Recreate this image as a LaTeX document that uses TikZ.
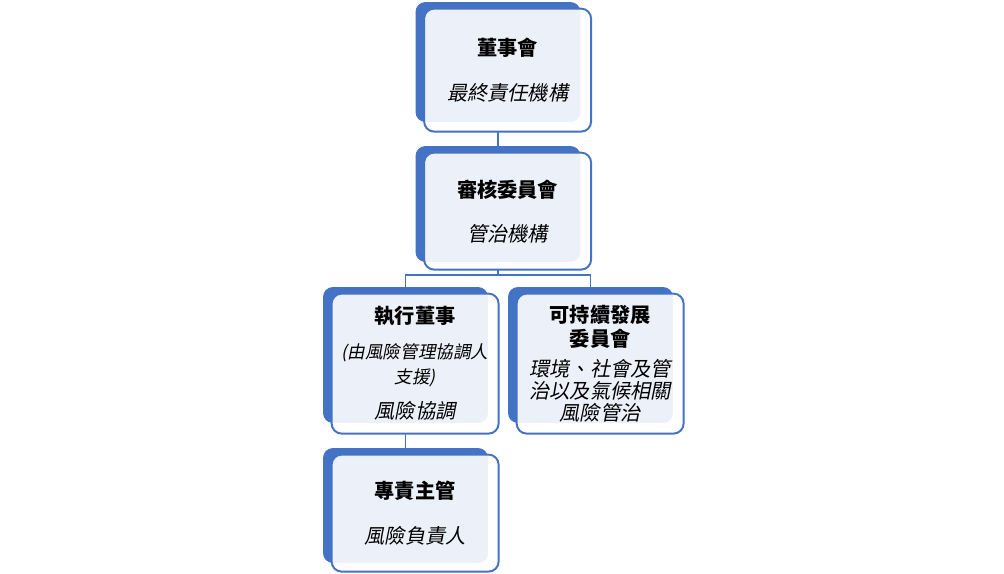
\documentclass[tikz,border=0pt]{standalone}
\usepackage{fontspec}
\setmainfont{Noto Sans CJK TC}[ItalicFont=Noto Sans CJK TC, ItalicFeatures={FakeSlant=0.2}]
\usepackage{xcolor}
\usepackage{tikz}
\usetikzlibrary{positioning, calc}
\definecolor{boxblue}{RGB}{68,114,196}

\begin{document}
\begin{tikzpicture}[
        x=0.02cm, y=-0.02cm,
        back/.style={rectangle, fill=boxblue, rounded corners=0.2cm, minimum width=3.3cm, inner sep=0pt},
        front/.style={rectangle, draw=boxblue, line width=1.1pt, fill=white, fill opacity=0.9, text opacity=1, rounded corners=0.2cm, minimum width=3.34cm, inner sep=0pt, align=center, anchor=north west, font=\fontsize{11.5}{12.5}\selectfont},
        link/.style={draw=boxblue, line width=0.9pt}
    ]
    \useasboundingbox (0,0) rectangle (1004,574);

    % Back shapes
    \node[back, minimum height=2.4cm] (board) at (498,62) {};
    \node[back, minimum height=2.32cm] (audit) at (498,204) {};
    \node[back, minimum height=2.72cm] (exec) at (405.5,355) {};
    \node[back, minimum height=2.72cm] (esg) at (590.5,355) {};
    \node[back, minimum height=2.3cm] (officer) at (405.5,505.5) {};

    % Reporting lines
    \draw[link] (board.south |- 0,131) -- (audit.north);
    \draw[link] (audit.south |- 0,270) -- ++(0,5) -| (exec.north);
    \draw[link] (audit.south |- 0,270) -- ++(0,5) -| (esg.north);
    \draw[link] (exec.south |- 0,433) -- (officer.north);

    % Front boxes
    \node[front, minimum height=2.46cm] (boardF) at ([shift={(8,6)}]board.north west)
        {{\bfseries 董事會}\\[13pt]{\itshape 最終責任機構}};
    \node[front, minimum height=2.34cm] (auditF) at ([shift={(8,6)}]audit.north west)
        {{\bfseries 審核委員會}\\[12.5pt]{\itshape 管治機構}};
    \node[front, minimum height=2.8cm] (execF) at ([shift={(8,6)}]exec.north west)
        {{\bfseries 執行董事}\\[7.4pt]{\itshape\fontsize{10}{12.5}\selectfont (由風險管理協調人}\\[1.7pt]{\itshape\fontsize{10}{12.5}\selectfont 支援)}\\[7.4pt]{\itshape 風險協調}};
    \node[front, minimum height=2.8cm] (esgF) at ([shift={(8,6)}]esg.north west)
        {{\bfseries 可持續發展}\\[1.2pt]{\bfseries 委員會}\\[4.5pt]{\itshape 環境、社會及管}\\{\itshape 治以及氣候相關}\\{\itshape 風險管治}};
    \node[front, minimum height=2.34cm] (officerF) at ([shift={(8,6)}]officer.north west)
        {{\bfseries 專責主管}\\[13pt]{\itshape 風險負責人}};

\end{tikzpicture}
\end{document}
